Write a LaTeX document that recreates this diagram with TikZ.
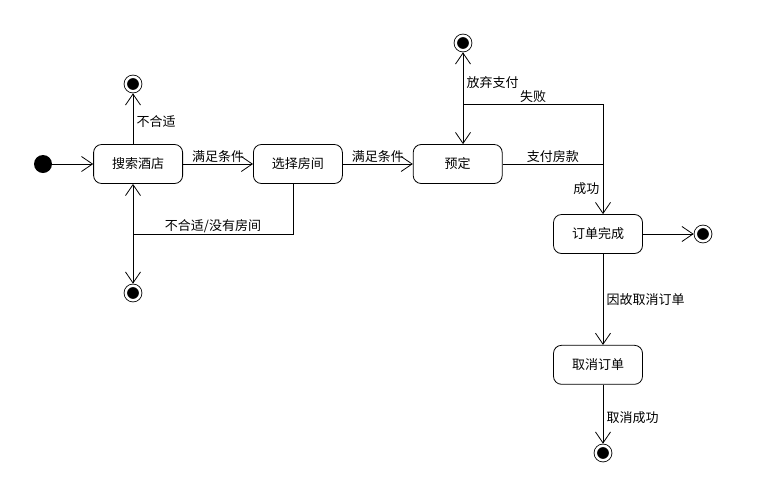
\documentclass[tikz,border=0pt]{standalone}
\usepackage{fontspec}
\setmainfont{Noto Sans CJK SC}
\usetikzlibrary{positioning,arrows.meta}
\tikzset{state/.style={draw,rectangle,rounded corners=8pt,minimum width=89pt,minimum height=39pt,line width=0.8pt},
start/.style={circle,fill=black,inner sep=0pt,minimum size=18pt},
final/.style={circle,draw,fill=black,inner sep=0pt,minimum size=14.5pt,double=white,double distance=2.5pt,line width=0.8pt,outer sep=2.1pt},
arr/.style={-{Straight Barb[length=11pt,width=15pt]},line width=0.8pt},
lin/.style={line width=0.8pt}}

\begin{document}
\begin{tikzpicture}[x=1pt,y=-1pt,font=\fontsize{13}{15}\selectfont]
\useasboundingbox[fill=white] (0,0) rectangle (783,493);
\node[start] (init) at (43,164) {};
\node[state,right=41pt of init] (search) {搜索酒店};
\node[state,right=70pt of search] (room) {选择房间};
\node[state,right=70pt of room] (book) {预定};
\node[state] (done) at (598,234) {订单完成};
\node[state,below=91pt of done] (cancel) {取消订单};
\node[final] (end1) at (133,84) {};
\node[final] (end2) at (133,293) {};
\node[final] (end3) at (463,43) {};
\node[final] (end4) at (703,234) {};
\node[final] (end5) at (603,453) {};
\coordinate (split1) at (133,234);
\coordinate (pay) at (603,164);
\coordinate (fail) at (603,104);
\coordinate (split2) at (463,104);

\draw[arr] (init) -- (search);
\draw[arr] (end1 |- search.north) -- node[right,pos=0.44] {不合适} (end1);
\draw[arr] (search) -- node[above,inner sep=1pt] {满足条件} (room);
\draw[lin] ([xshift=-5pt]room.south) |- node[above,pos=0.75,inner sep=1pt] {不合适/没有房间} (split1);
\draw[arr] (split1) -- (search.south -| split1);
\draw[arr] (split1) -- (end2);
\draw[arr] (room) -- node[above,inner sep=1pt] {满足条件} (book);
\draw[lin] (book) -- node[above,inner sep=1pt] {支付房款} (pay);
\draw[arr] (pay) -- node[left] {成功} (done.north -| pay);
\draw[lin] (pay) -- (fail) -- node[above,inner sep=1pt] {失败} (split2);
\draw[arr] (split2) -- node[right,pos=0.42] {放弃支付} (end3);
\draw[arr] (split2) -- (book.north -| split2);
\draw[arr] (done) -- (end4);
\draw[arr] (done.south -| end5) -- node[right] {因故取消订单} (cancel.north -| end5);
\draw[arr] (cancel.south -| end5) -- node[right,pos=0.56] {取消成功} (end5);
\end{tikzpicture}
\end{document}
